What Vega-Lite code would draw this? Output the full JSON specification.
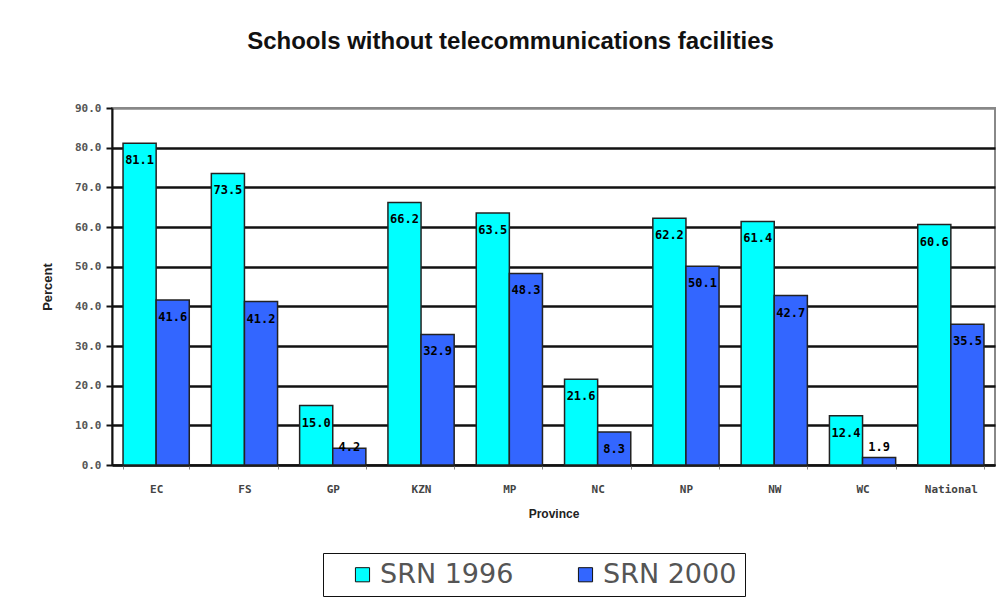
{
  "$schema": "https://vega.github.io/schema/vega-lite/v6.json",
  "width": 883,
  "height": 357,
  "autosize": {"type": "none"},
  "padding": {"left": 112, "top": 108, "right": 5, "bottom": 137},
  "background": "white",
  "title": {
    "text": "Schools without telecommunications facilities",
    "font": "Liberation Sans",
    "fontSize": 24,
    "fontWeight": "bold",
    "color": "#111",
    "frame": "group",
    "anchor": "middle",
    "offset": 48,
    "dx": -43
  },
  "data": {
    "values": [
      {"province": "EC", "series": "SRN 1996", "value": 81.1},
      {"province": "EC", "series": "SRN 2000", "value": 41.6},
      {"province": "FS", "series": "SRN 1996", "value": 73.5},
      {"province": "FS", "series": "SRN 2000", "value": 41.2},
      {"province": "GP", "series": "SRN 1996", "value": 15.0},
      {"province": "GP", "series": "SRN 2000", "value": 4.2},
      {"province": "KZN", "series": "SRN 1996", "value": 66.2},
      {"province": "KZN", "series": "SRN 2000", "value": 32.9},
      {"province": "MP", "series": "SRN 1996", "value": 63.5},
      {"province": "MP", "series": "SRN 2000", "value": 48.3},
      {"province": "NC", "series": "SRN 1996", "value": 21.6},
      {"province": "NC", "series": "SRN 2000", "value": 8.3},
      {"province": "NP", "series": "SRN 1996", "value": 62.2},
      {"province": "NP", "series": "SRN 2000", "value": 50.1},
      {"province": "NW", "series": "SRN 1996", "value": 61.4},
      {"province": "NW", "series": "SRN 2000", "value": 42.7},
      {"province": "WC", "series": "SRN 1996", "value": 12.4},
      {"province": "WC", "series": "SRN 2000", "value": 1.9},
      {"province": "National", "series": "SRN 1996", "value": 60.6},
      {"province": "National", "series": "SRN 2000", "value": 35.5}
    ]
  },
  "encoding": {
    "x": {
      "field": "province",
      "type": "nominal",
      "sort": ["EC", "FS", "GP", "KZN", "MP", "NC", "NP", "NW", "WC", "National"],
      "scale": {"paddingInner": 0.25, "paddingOuter": 0.125},
      "axis": {
        "title": "Province",
        "titleFont": "Liberation Sans",
        "titleFontSize": 12,
        "titleFontWeight": "bold",
        "titleColor": "#222",
        "titlePadding": 14,
        "labelAngle": 0,
        "labelFont": "DejaVu Sans Mono",
        "labelFontSize": 11,
        "labelFontWeight": "bold",
        "labelColor": "#444",
        "labelPadding": 14,
        "tickBand": "extent",
        "tickSize": 4,
        "tickColor": "#888",
        "domainColor": "#111",
        "domainWidth": 2
      }
    },
    "xOffset": {"field": "series", "type": "nominal", "scale": {"paddingInner": 0}},
    "y": {
      "field": "value",
      "type": "quantitative",
      "scale": {"domain": [0, 90], "nice": false},
      "axis": {
        "title": "Percent",
        "titleFont": "Liberation Sans",
        "titleFontSize": 13,
        "titleFontWeight": "bold",
        "titleColor": "#222",
        "titlePadding": 20,
        "values": [0, 10, 20, 30, 40, 50, 60, 70, 80, 90],
        "labelOverlap": false,
        "format": ".1f",
        "labelFont": "DejaVu Sans Mono",
        "labelFontSize": 11,
        "labelFontWeight": "bold",
        "labelColor": "#555",
        "labelPadding": 5,
        "tickSize": 6,
        "tickColor": "#111",
        "tickWidth": 2,
        "domainColor": "#111",
        "domainWidth": 2,
        "grid": true,
        "gridColor": {"condition": {"test": "datum.value === 90", "value": "#888888"}, "value": "#111111"},
        "gridWidth": 2.5
      }
    }
  },
  "layer": [
    {
      "mark": {"type": "bar", "stroke": "#222", "strokeWidth": 1.5},
      "encoding": {
        "color": {
          "field": "series",
          "type": "nominal",
          "scale": {"domain": ["SRN 1996", "SRN 2000"], "range": ["#00FFFF", "#3366FF"]},
          "legend": {
            "title": null,
            "orient": "none",
            "direction": "horizontal",
            "legendX": 211,
            "legendY": 445,
            "padding": 8,
            "strokeColor": "#111",
            "fillColor": "white",
            "symbolType": "square",
            "symbolSize": 200,
            "symbolStrokeColor": "#111",
            "symbolStrokeWidth": 1,
            "symbolOpacity": 1,
            "symbolOffset": 18,
            "labelFont": "DejaVu Sans",
            "labelFontSize": 27,
            "labelColor": "#555",
            "labelOffset": 4,
            "columnPadding": 40
          }
        }
      }
    },
    {
      "transform": [{"filter": "datum.value >= 5"}],
      "mark": {"type": "text", "baseline": "middle", "dy": 17, "font": "DejaVu Sans Mono", "fontSize": 12, "fontWeight": "bold", "color": "#000"},
      "encoding": {
        "text": {"field": "value", "type": "quantitative", "format": ".1f"}
      }
    },
    {
      "transform": [{"filter": "datum.value < 5"}],
      "mark": {"type": "text", "baseline": "middle", "font": "DejaVu Sans Mono", "fontSize": 12, "fontWeight": "bold", "color": "#000"},
      "encoding": {
        "y": {"datum": 4.5, "type": "quantitative"},
        "text": {"field": "value", "type": "quantitative", "format": ".1f"}
      }
    }
  ],
  "config": {
    "view": {"stroke": "#888888", "strokeWidth": 2}
  }
}
